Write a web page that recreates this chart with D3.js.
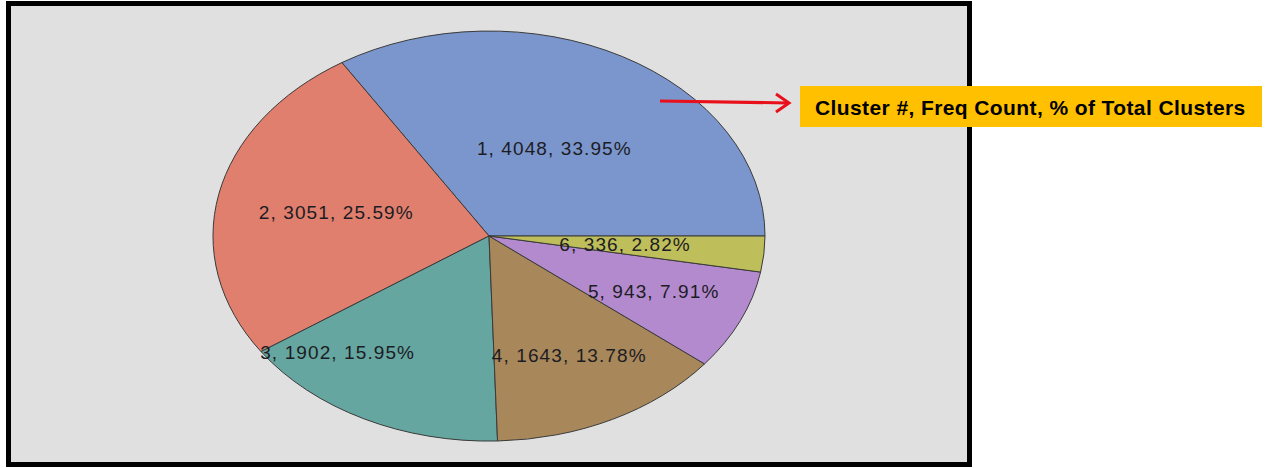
<!DOCTYPE html>
<html>
<head>
<meta charset="utf-8">
<script src="https://cdn.jsdelivr.net/npm/d3@7"></script>
<style>
  body { margin: 0; background: #fff; }
  svg { display: block; font-family: "Liberation Sans", Arial, sans-serif; }
</style>
</head>
<body>
<div id="chart"></div>
<script>
// cluster frequency data
const clusters = [1, 2, 3, 4, 5, 6];
const counts = [4048, 3051, 1902, 1643, 943, 336];
const percents = ["33.95", "25.59", "15.95", "13.78", "7.91", "2.82"];
const colors = ["#7b96cc", "#e07f6d", "#66a6a0", "#a8875a", "#b48acf", "#bebe5a"];
const calloutText = "Cluster #, Freq Count, % of Total Clusters";

const W = 1266, H = 468;
const cx = 489, cy = 236, rx = 276, ry = 205;

const svg = d3.select("#chart").append("svg")
  .attr("width", W).attr("height", H);

// gray panel with heavy black frame
svg.append("rect")
  .attr("x", 8.5).attr("y", 3.5)
  .attr("width", 961).attr("height", 461)
  .attr("fill", "#e0e0e0")
  .attr("stroke", "#000")
  .attr("stroke-width", 5);

// pie starts at 3 o'clock and goes counter-clockwise
const pie = d3.pie().sort(null).value(d => d)
  .startAngle(Math.PI / 2)
  .endAngle(Math.PI / 2 - 2 * Math.PI);
const arcs = pie(counts);
const arc = d3.arc().innerRadius(0).outerRadius(1);

const g = svg.append("g")
  .attr("transform", "translate(" + cx + "," + cy + ") scale(" + rx + "," + ry + ")");

g.selectAll("path")
  .data(arcs).enter()
  .append("path")
  .attr("d", arc)
  .attr("fill", (d, i) => colors[i])
  .attr("stroke", "#3a3a3a")
  .attr("stroke-width", 1)
  .attr("vector-effect", "non-scaling-stroke");

// label placement (fraction of radius, plus an angle nudge for slice 3)
const labelR = [0.49, 0.565, 0.79, 0.65, 0.655, 0.495];
const labelNudge = [0, 0, 0.297, 0, 0, 0];

svg.append("g").selectAll("text")
  .data(arcs).enter()
  .append("text")
  .attr("x", (d, i) => {
    const a = (d.startAngle + d.endAngle) / 2 + labelNudge[i];
    return cx + rx * labelR[i] * Math.sin(a);
  })
  .attr("y", (d, i) => {
    const a = (d.startAngle + d.endAngle) / 2 + labelNudge[i];
    return cy - ry * labelR[i] * Math.cos(a);
  })
  .attr("text-anchor", "middle")
  .attr("dominant-baseline", "central")
  .attr("font-size", 19)
  .attr("letter-spacing", 1.1)
  .attr("fill", "#1c1c24")
  .text((d, i) => clusters[i] + ", " + counts[i] + ", " + percents[i] + "%");

// callout box
svg.append("rect")
  .attr("x", 800).attr("y", 86)
  .attr("width", 462).attr("height", 41)
  .attr("fill", "#ffc000");

svg.append("text")
  .attr("x", 815).attr("y", 107)
  .attr("dominant-baseline", "central")
  .attr("font-size", 21)
  .attr("letter-spacing", 0.4)
  .attr("font-weight", "bold")
  .attr("fill", "#000")
  .text(calloutText);

// red arrow pointing to the callout
svg.append("line")
  .attr("x1", 660).attr("y1", 101)
  .attr("x2", 788).attr("y2", 103)
  .attr("stroke", "#e8101a")
  .attr("stroke-width", 3);

svg.append("path")
  .attr("d", "M776,94 L789,103 L776,112")
  .attr("fill", "none")
  .attr("stroke", "#e8101a")
  .attr("stroke-width", 3);
</script>
</body>
</html>
